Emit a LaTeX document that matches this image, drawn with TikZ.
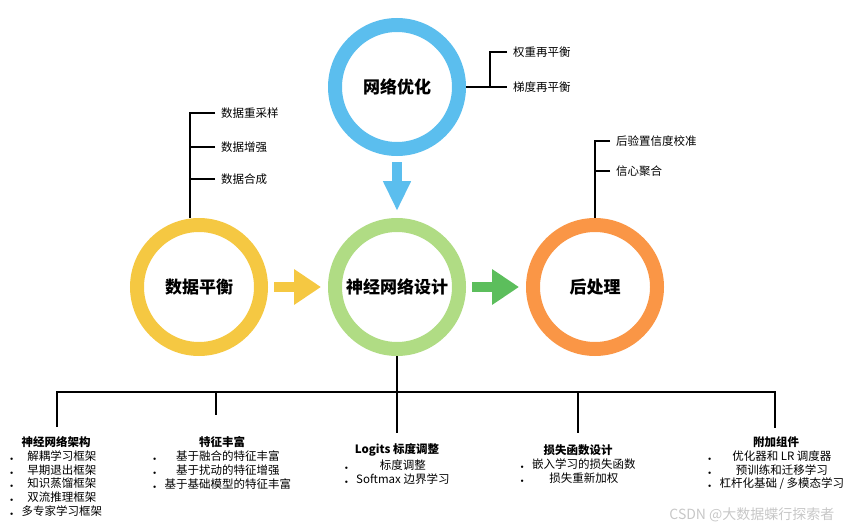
\documentclass[tikz,border=0pt]{standalone}
\usepackage{fontspec}
\setmainfont{Noto Sans CJK SC}
\usetikzlibrary{positioning,arrows.meta}
\definecolor{ringblue}{RGB}{91,190,238}
\definecolor{ringyellow}{RGB}{245,200,66}
\definecolor{ringgreen}{RGB}{176,220,132}
\definecolor{arrowgreen}{RGB}{92,190,92}
\definecolor{ringorange}{RGB}{250,150,70}
\newcommand\dotrow[1]{{\tiny$\bullet$} & #1\\}
\newenvironment{dotlist}{\begin{tabular}{@{}l@{\hspace{8pt}}c@{}}}{\end{tabular}}
\begin{document}
\begin{tikzpicture}[x=1pt,y=-1pt,
    ring/.style={circle,draw=#1,line width=14pt,minimum size=124pt,outer sep=7pt,font=\fontsize{17}{20}\selectfont\bfseries},
    link/.style={line width=2.6pt},
    lbl/.style={inner sep=6pt,anchor=west,font=\fontsize{11.5}{13}\selectfont},
    head/.style={inner sep=0pt,font=\fontsize{11.5}{13}\selectfont\bfseries},
    items/.style={inner sep=0pt,font=\fontsize{11.5}{13}\selectfont},
    fat/.style={line width=10pt,draw=#1,-{Triangle[width=34pt,length=27pt]},shorten <=6pt,shorten >=7pt}]
    \useasboundingbox (0,0) rectangle (848,532);
    \node[ring=ringblue] (opt) at (397,87) {网络优化};
    \node[ring=ringyellow] (bal) at (199,287) {数据平衡};
    \node[ring=ringgreen] (net) at (397,287) {神经网络设计};
    \node[ring=ringorange] (post) at (595,287) {后处理};
    \draw[fat=ringyellow] (bal) -- (net);
    \draw[fat=arrowgreen] (net) -- (post);
    \draw[fat=ringblue,-{Triangle[width=26pt,length=30pt]}] (opt) -- (net);
    % network optimisation
    \node[lbl] (w1) at (507,52) {权重再平衡};
    \node[lbl] (w2) at (507,87) {梯度再平衡};
    \coordinate (wx) at (490,0);
    \draw[link] (opt.east) -- (w2.west);
    \draw[link] (w1.west) -| (wx |- w2.west);
    % data balance
    \node[lbl] (d1) at (215,113) {数据重采样};
    \node[lbl] (d2) at (215,147) {数据增强};
    \node[lbl] (d3) at (215,179) {数据合成};
    \coordinate (dx) at (190,0);
    \draw[link] (d1.west) -| (dx |- bal.north);
    \draw[link] (d2.west) -- (d2.west -| dx);
    \draw[link] (d3.west) -- (d3.west -| dx);
    % post processing
    \node[lbl] (p1) at (610,141) {后验置信度校准};
    \node[lbl] (p2) at (610,171) {信心聚合};
    \draw[link] (p1.west) -| (post.north);
    \draw[link] (p2.west) -- (p2.west -| post.north);
    % network design tree
    \coordinate (bus) at (397,392);
    \coordinate (e1) at (57,427);
    \coordinate (e2) at (216,415);
    \coordinate (e3) at (397,433);
    \coordinate (e4) at (578,433);
    \coordinate (e5) at (775,428);
    \draw[link] (net.south) -- (net.south |- bus);
    \draw[link] (e1) |- (e5 |- bus) -- (e5);
    \foreach \e in {e2,e3,e4} \draw[link] (\e |- bus) -- (\e);
    \node[head] (h1) at (56,442) {神经网络架构};
    \node[items,below=3pt of h1] (l1) {\begin{dotlist}\dotrow{解耦学习框架}\dotrow{早期退出框架}\dotrow{知识蒸馏框架}\dotrow{双流推理框架}\dotrow{多专家学习框架}\end{dotlist}};
    \node[head] (h2) at (222,442) {特征丰富};
    \node[items,below=3pt of h2] (l2) {\begin{dotlist}\dotrow{基于融合的特征丰富}\dotrow{基于扰动的特征增强}\dotrow{基于基础模型的特征丰富}\end{dotlist}};
    \node[head] (h3) at (397,450) {Logits 标度调整};
    \node[items,below=3pt of h3] (l3) {\begin{dotlist}\dotrow{标度调整}\dotrow{Softmax 边界学习}\end{dotlist}};
    \node[head] (h4) at (578,450) {损失函数设计};
    \node[items,below=3pt of h4] (l4) {\begin{dotlist}\dotrow{嵌入学习的损失函数}\dotrow{损失重新加权}\end{dotlist}};
    \node[head] (h5) at (776,442) {附加组件};
    \node[items,below=3pt of h5] (l5) {\begin{dotlist}\dotrow{优化器和 LR 调度器}\dotrow{预训练和迁移学习}\dotrow{杠杆化基础 / 多模态学习}\end{dotlist}};
    \node[anchor=east,text=black!22,font=\fontsize{14}{16}\selectfont] (wm) at (838,515) {CSDN @大数据蝶行探索者};
\end{tikzpicture}
\end{document}
